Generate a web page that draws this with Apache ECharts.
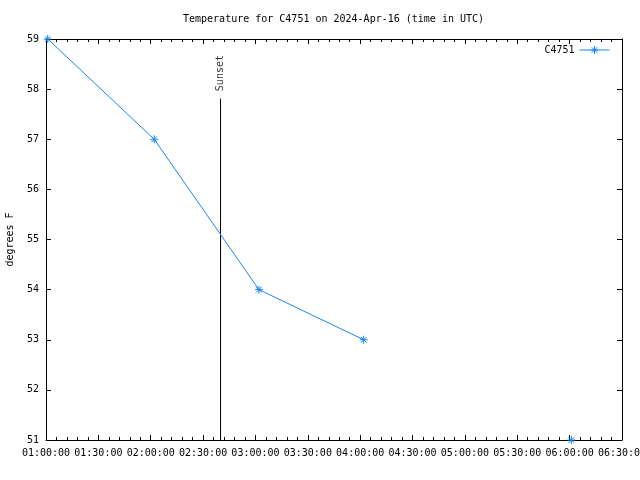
<!DOCTYPE html>
<html>
<head>
<meta charset="utf-8">
<script src="https://cdn.jsdelivr.net/npm/echarts@6/dist/echarts.min.js"></script>
<style>html,body{margin:0;padding:0;background:#fff}#c{width:640px;height:480px}</style>
</head>
<body>
<div id="c"></div>
<script>
// ---- data ----
const day = '2024-04-16';
const times = ['01:01:00', '02:02:00', '03:02:00', '04:02:00', '05:02:00', '06:01:00'];
const temps = [59, 57, 54, 53, null, 51];
const sunsetTime = '02:40:00';
const sunsetTop = 57.81;
const sunsetLabelY = 58.32;
const xStart = '01:00:00';
const xEnd = '06:30:00';
const yMin = 51, yMax = 59;
const seriesName = 'C4751';
const titleText = 'Temperature for C4751 on 2024-Apr-16 (time in UTC)';

function t(s) { return Date.parse(day + 'T' + s + 'Z'); }
function fmt(v) {
  const d = new Date(v);
  const p = n => String(n).padStart(2, '0');
  return p(d.getUTCHours()) + ':' + p(d.getUTCMinutes()) + ':' + p(d.getUTCSeconds());
}

const FONT = 'DejaVu Sans Mono';
const BLUE = '#1787f0';
const STAR = 'path://M0 5L10 5M5 0L5 10M1.5 1.5L8.5 8.5M8.5 1.5L1.5 8.5';

const chart = echarts.init(document.getElementById('c'), null, { renderer: 'canvas' });

const baseX = {
  type: 'value', min: t(xStart), max: t(xEnd), interval: 30 * 60 * 1000,
  axisLine: { show: true, onZero: false, lineStyle: { color: '#000', width: 1 } },
  axisTick: { show: true, inside: true, length: 5, lineStyle: { color: '#000' } },
  minorTick: { show: true, splitNumber: 5, length: 3, lineStyle: { color: '#000' } },
  splitLine: { show: false }
};
const baseY = {
  type: 'value', min: yMin, max: yMax, interval: 1,
  axisLine: { show: true, onZero: false, lineStyle: { color: '#000', width: 1 } },
  axisTick: { show: true, inside: true, length: 5, lineStyle: { color: '#000' } },
  splitLine: { show: false }
};

chart.setOption({
  animation: false,
  backgroundColor: '#fff',
  title: {
    text: titleText, left: 183, top: 14, padding: 0,
    textStyle: { fontFamily: FONT, fontSize: 10, fontWeight: 'normal', color: '#000' }
  },
  legend: {
    data: [seriesName], right: 30, top: 45, padding: 0, align: 'right',
    itemWidth: 30, itemHeight: 10, itemGap: 0,
    lineStyle: { width: 1 },
    itemStyle: { color: BLUE, borderColor: BLUE, borderWidth: 1 },
    textStyle: { fontFamily: FONT, fontSize: 10, color: '#000' }
  },
  grid: { left: 46, right: 18, top: 39, bottom: 40, containLabel: false, outerBoundsMode: 'none' },
  xAxis: [
    Object.assign({}, baseX, {
      position: 'bottom',
      axisLabel: { show: true, margin: 8, formatter: fmt, fontFamily: FONT, fontSize: 10, color: '#000',
        showMinLabel: true, showMaxLabel: true, hideOverlap: false }
    }),
    Object.assign({}, baseX, { position: 'top', axisLabel: { show: false } })
  ],
  yAxis: [
    Object.assign({}, baseY, {
      position: 'left',
      name: 'degrees F', nameLocation: 'middle', nameRotate: 90, nameGap: 31,
      nameTextStyle: { fontFamily: FONT, fontSize: 10, color: '#000' },
      axisLabel: { show: true, margin: 7, fontFamily: FONT, fontSize: 10, color: '#000' }
    }),
    Object.assign({}, baseY, { position: 'right', axisLabel: { show: false } })
  ],
  series: [
    {
      name: seriesName, type: 'line',
      data: times.map((s, i) => [t(s), temps[i]]),
      connectNulls: false,
      symbol: STAR, symbolSize: 8, showAllSymbol: true,
      lineStyle: { color: BLUE, width: 1 },
      itemStyle: { color: BLUE, borderColor: BLUE, borderWidth: 1 },
      emphasis: { disabled: true }
    },
    {
      name: 'Sunset', type: 'line',
      data: [[t(sunsetTime), yMin], [t(sunsetTime), sunsetTop]],
      symbol: 'none', lineStyle: { color: '#000', width: 1 },
      silent: true, z: 1
    },
    {
      name: 'SunsetLabel', type: 'scatter',
      data: [[t(sunsetTime), sunsetLabelY]],
      symbolSize: 0, silent: true,
      label: { show: true, formatter: 'Sunset', position: 'inside', rotate: 90,
        fontFamily: FONT, fontSize: 10, color: '#000' }
    }
  ]
});
</script>
</body>
</html>
